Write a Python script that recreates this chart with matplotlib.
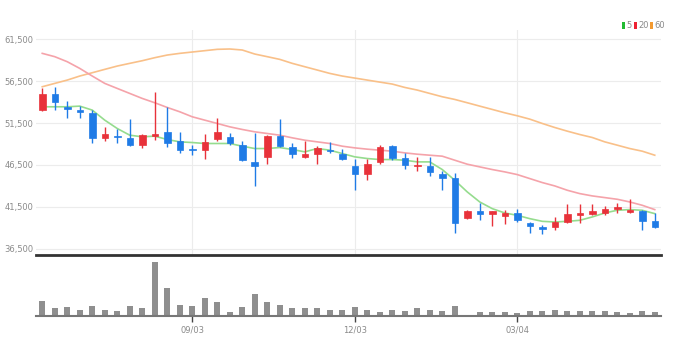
import matplotlib
matplotlib.use("Agg")
import matplotlib.pyplot as plt
from matplotlib.patches import Rectangle

# weekly candles
opens = [53100, 54940, 53350, 53030, 52715, 49730, 49970, 49770, 48940, 49930,
         50370, 49380, 48460, 48300, 49575, 49850, 48940, 46830, 47470, 49970,
         48660, 47470, 47865, 48340, 47790, 46395, 45400, 46870, 48780, 47390,
         46355, 46395, 45480, 44965, 40235, 40990, 40710, 40430, 40790, 39640,
         39120, 39120, 39720, 40510, 40710, 40790, 41270, 40910, 40990, 39800]
closes = [54940, 54030, 53110, 52835, 49735, 50170, 49775, 48940, 50090, 50210,
          49140, 48265, 48300, 49215, 50370, 49060, 47070, 46435, 49970, 48740,
          47785, 47865, 48500, 48145, 47230, 45480, 46670, 48660, 47390, 46555,
          46555, 45680, 45005, 39600, 41030, 40710, 40990, 40790, 39995, 39200,
          38845, 39715, 40710, 40830, 40990, 41305, 41505, 41110, 39835, 39120]
highs = [55615, 55815, 54145, 53510, 53030, 50965, 50730, 51960, 50250, 55220,
         53430, 50370, 48860, 50250, 52120, 50330, 49375, 50330, 50130, 51960,
         49060, 49375, 48740, 49260, 48460, 47270, 47270, 48860, 48940, 47945,
         47470, 47470, 45800, 45560, 41190, 41985, 41030, 41110, 41305, 39715,
         39400, 40315, 41905, 41905, 41825, 41585, 41985, 42420, 41110, 40790]
lows = [52955, 53035, 52040, 52120, 49140, 49415, 49175, 48780, 48580, 49535,
        48660, 47985, 47745, 47190, 49415, 48940, 46950, 44010, 46675, 48660,
        47390, 47390, 46675, 47985, 47070, 43575, 44765, 46675, 47070, 46075,
        45800, 45200, 43575, 38445, 40115, 39915, 39240, 39440, 39715, 38445,
        38325, 38805, 39640, 39640, 40510, 40510, 40790, 40790, 38805, 39040]

ma5 = [53430, 53430, 53430, 53510, 53035, 51840, 50845, 50050, 49855, 49935,
       49535, 49255, 49175, 49060, 49060, 49060, 48740, 48460, 48460, 48580,
       48345, 48065, 48460, 48265, 47865, 47470, 47270, 47150, 47150, 47070,
       46870, 46870, 45960, 44685, 43295, 42100, 41305, 40790, 40510, 40115,
       39795, 39715, 39795, 39915, 40315, 40790, 41110, 41190, 41110, 40710]
ma20 = [59790, 59395, 58795, 58000, 57090, 56215, 55615, 55020, 54425, 53910,
        53350, 52835, 52240, 51840, 51445, 51045, 50730, 50450, 50250, 50050,
        49735, 49455, 49255, 49060, 48740, 48540, 48385, 48265, 48145, 47945,
        47785, 47665, 47550, 47070, 46595, 46275, 45960, 45680, 45360, 44885,
        44410, 44010, 43495, 43095, 42820, 42620, 42420, 42100, 41705, 41190]
ma60 = [55815, 56215, 56610, 57090, 57485, 57885, 58280, 58600, 58915, 59275,
        59590, 59790, 59950, 60110, 60270, 60310, 60190, 59710, 59395, 59075,
        58600, 58200, 57805, 57405, 57090, 56850, 56610, 56370, 56135, 55735,
        55420, 55020, 54625, 54305, 53910, 53510, 53115, 52715, 52360, 51960,
        51445, 50965, 50530, 50130, 49775, 49255, 48860, 48460, 48145, 47665]

volumes = [43, 23, 26, 18, 28, 18, 16, 28, 22, 158,
           81, 33, 28, 52, 42, 12, 26, 65, 41, 33,
           22, 23, 23, 18, 17, 25, 17, 13, 17, 14,
           23, 17, 14, 29, 3, 13, 13, 13, 8, 15,
           15, 18, 14, 14, 14, 14, 12, 9, 14, 13]

y_ticks = [36500, 41500, 46500, 51500, 56500, 61500]
x_tick_pos = [12, 25, 38]
x_tick_labels = ["09/03", "12/03", "03/04"]

UP = "#e8323a"
DOWN = "#1f7be6"
FONT = ["Liberation Sans Narrow", "DejaVu Sans"]

fig = plt.figure(figsize=(6.75, 3.54), dpi=100)
ax = fig.add_axes([36 / 675, 1 - 255 / 354, 625 / 675, 225 / 354])
axv = fig.add_axes([36 / 675, 1 - 316 / 354, 625 / 675, 58 / 354])

n = len(opens)
for i in range(n):
    o, c, h, l = opens[i], closes[i], highs[i], lows[i]
    col = UP if c >= o else DOWN
    ax.vlines(i, l, h, color=col, linewidth=1, zorder=3)
    bot = min(o, c)
    hgt = max(abs(c - o), 60)
    ax.add_patch(Rectangle((i - 0.26, bot), 0.52, hgt, facecolor=col,
                           edgecolor=col, linewidth=0.5, zorder=4))

xs = list(range(n))
ax.plot(xs, ma60, color="#f9c089", linewidth=1.2, zorder=2)
ax.plot(xs, ma20, color="#f5a3aa", linewidth=1.2, zorder=2)
ax.plot(xs, ma5, color="#95dc8e", linewidth=1.2, zorder=2)

ax.set_xlim(-0.5, n - 0.5)
ax.set_ylim(36500 - 6 * 119.05, 61500 + 9 * 119.05)
ax.set_yticks(y_ticks)
ax.set_yticklabels([f"{v:,}" for v in y_ticks], fontsize=6, color="#8a8a8a",
                   family=FONT)
ax.set_xticks(x_tick_pos)
ax.set_xticklabels([])
ax.tick_params(axis="both", length=0, pad=2)
ax.grid(True, color="#ececec", linewidth=0.8, zorder=0)
for s in ["top", "right", "left"]:
    ax.spines[s].set_visible(False)
ax.spines["bottom"].set_color("#333333")
ax.spines["bottom"].set_linewidth(2)

axv.bar(xs, volumes, width=0.48, color="#8f8f8f", zorder=2)
axv.set_xlim(-0.5, n - 0.5)
axv.set_ylim(0, 170)
axv.set_yticks([])
axv.set_xticks(x_tick_pos)
axv.set_xticklabels(x_tick_labels, fontsize=6, color="#8a8a8a", family=FONT)
axv.tick_params(axis="x", length=4, width=1, color="#444444", pad=3)
for s in ["top", "right", "left"]:
    axv.spines[s].set_visible(False)
axv.spines["bottom"].set_color("#777777")
axv.spines["bottom"].set_linewidth(1.5)

# legend
leg = [("5", "#22bb33", 622), ("20", "#ee2233", 634), ("60", "#f39a30", 650)]
for txt, col, px in leg:
    fig.patches.append(Rectangle((px / 675, 1 - 29 / 354), 3 / 675, 7 / 354,
                                 facecolor=col, edgecolor="none",
                                 transform=fig.transFigure))
    fig.text((px + 4.5) / 675, 1 - 25.5 / 354, txt, fontsize=6, color="#8a8a8a",
             family=FONT, va="center", ha="left")

fig.savefig("out.png", dpi=100)
